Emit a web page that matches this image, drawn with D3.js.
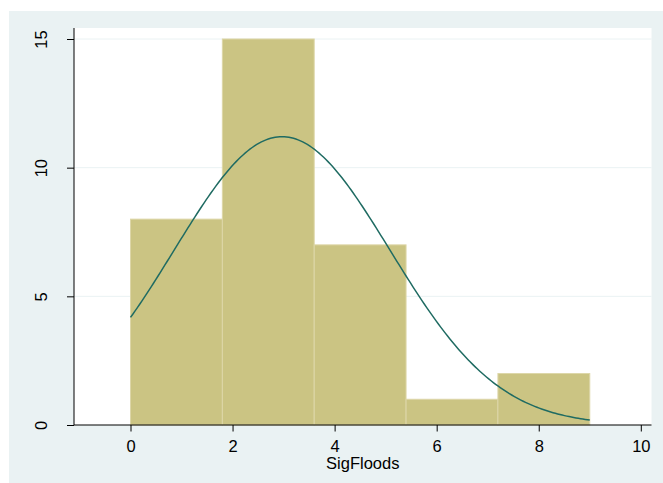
<!DOCTYPE html>
<html><head><meta charset="utf-8">
<script src="https://cdn.jsdelivr.net/npm/d3@7"></script>
<style>html,body{margin:0;padding:0;background:#fff;}svg{display:block;font-family:"Liberation Sans",Arial,sans-serif;}</style>
</head><body>
<svg id="c" width="663" height="483"></svg>
<script>
// Data
const binEdges = [0, 1.8, 3.6, 5.4, 7.2, 9.0];
const binCounts = [8, 15, 7, 1, 2];
const xTicks = [0, 2, 4, 6, 8, 10];
const yTicks = [0, 5, 10, 15];
const curveMean = 2.97;
const curveSD = 2.115;
const curveRange = [0, 9];
const xTitle = "SigFloods";

const svg = d3.select("#c");
const W = 663, H = 483;
const plot = {left: 74, right: 651.5, top: 28, bottom: 425};
const FS = 16.5;

svg.append("rect").attr("x", 9).attr("y", 11).attr("width", W - 9).attr("height", H - 11).attr("fill", "#EAF2F3");
svg.append("rect").attr("x", plot.left).attr("y", plot.top).attr("width", plot.right - plot.left).attr("height", plot.bottom - plot.top).attr("fill", "#fff");

const x = d3.scaleLinear().domain([0, 10]).range([130.5, 640.8]);
const y = d3.scaleLinear().domain([0, 15]).range([425, 39]);

// gridlines
svg.append("g").selectAll("line").data(yTicks.filter(d => d > 0)).join("line")
  .attr("x1", plot.left).attr("x2", plot.right)
  .attr("y1", d => y(d)).attr("y2", d => y(d))
  .attr("stroke", "#EAF2F3").attr("stroke-width", 1);

// bars
const bins = binCounts.map((c, i) => ({x0: binEdges[i], x1: binEdges[i + 1], c}));
svg.append("g").selectAll("rect").data(bins).join("rect")
  .attr("x", d => x(d.x0)).attr("width", d => x(d.x1) - x(d.x0))
  .attr("y", d => y(d.c)).attr("height", d => y(0) - y(d.c))
  .attr("fill", "#CBC483").attr("stroke", "#DDD6A8").attr("stroke-width", 1);

// normal density curve scaled to counts
const N = d3.sum(binCounts), bw = binEdges[1] - binEdges[0];
const pts = d3.range(0, 201).map(i => {
  const xv = curveRange[0] + (curveRange[1] - curveRange[0]) * i / 200;
  const dens = Math.exp(-0.5 * ((xv - curveMean) / curveSD) ** 2) / (curveSD * Math.sqrt(2 * Math.PI));
  return [xv, dens * N * bw];
});
svg.append("path").datum(pts)
  .attr("d", d3.line().x(d => x(d[0])).y(d => y(d[1])))
  .attr("fill", "none").attr("stroke", "#1F6B62").attr("stroke-width", 1.5);

// axes
const xAxis = d3.axisBottom(x).tickValues(xTicks).tickSize(6.5).tickFormat(d3.format("d"));
const gx = svg.append("g").attr("transform", `translate(0,${plot.bottom})`).call(xAxis);
gx.select(".domain").attr("d", `M${plot.left},0H${plot.right}`).attr("stroke", "#000");
gx.selectAll(".tick line").attr("stroke", "#000");
gx.selectAll("text").attr("font-size", FS).attr("fill", "#000").attr("font-family", "Liberation Sans, Arial, sans-serif")
  .attr("y", 27).attr("dy", null);

const yAxis = d3.axisLeft(y).tickValues(yTicks).tickSize(7).tickFormat(d3.format("d"));
const gy = svg.append("g").attr("transform", `translate(${plot.left},0)`).call(yAxis);
gy.select(".domain").attr("d", `M0,${plot.top}V${plot.bottom}`).attr("stroke", "#000");
gy.selectAll(".tick line").attr("stroke", "#000");
gy.selectAll("text").attr("font-size", FS).attr("fill", "#000")
  .attr("font-family", "Liberation Sans, Arial, sans-serif")
  .attr("x", null).attr("dy", null)
  .attr("text-anchor", "middle")
  .attr("transform", "translate(-27,0) rotate(-90)");

svg.append("text").attr("x", (plot.left + plot.right) / 2).attr("y", 468.5)
  .attr("text-anchor", "middle").attr("font-size", FS).attr("fill", "#000").text(xTitle);
</script>
</body></html>
